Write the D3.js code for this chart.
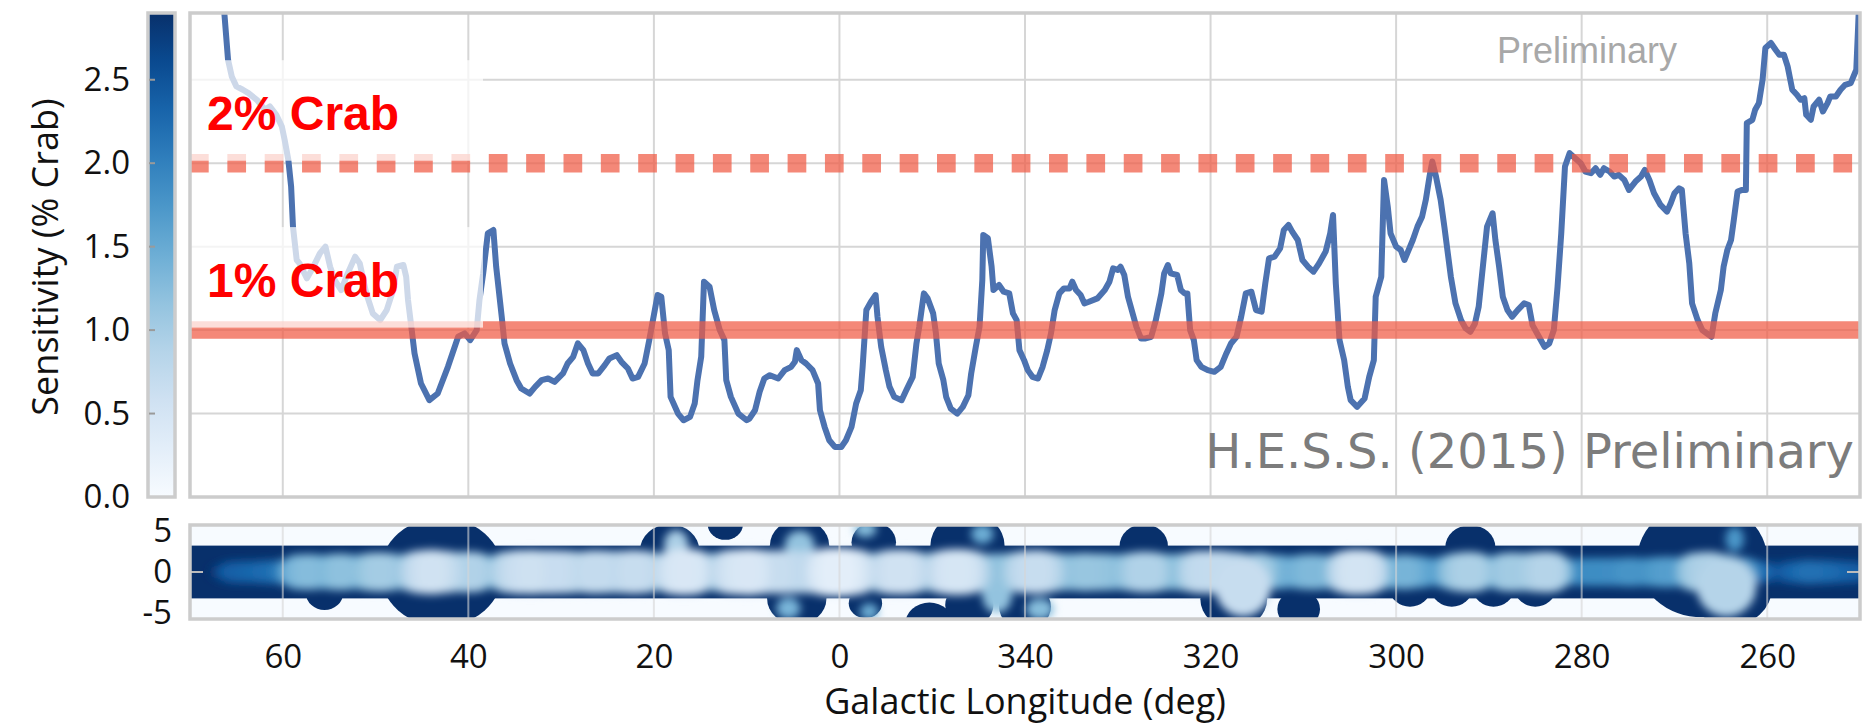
<!DOCTYPE html>
<html>
<head>
<meta charset="utf-8">
<script src="https://cdn.jsdelivr.net/npm/d3@7"></script>
<style>
body { margin: 0; background: #fff; }
svg { display: block; }
</style>
</head>
<body>
<div id="viz"></div>
<script>
// sensitivity along the plane (galactic longitude in deg, value in % Crab)
const longitudes = [
    66.6, 66.3, 65.9, 65.5, 65.0, 64.3, 63.7, 62.8, 61.9, 61.4,
    60.7, 60.1, 59.8, 59.4, 59.1, 58.9, 58.5, 58.2, 57.4, 56.7,
    56.0, 55.4, 54.9, 54.4, 53.7, 53.0, 52.2, 51.7, 51.0, 50.3,
    49.5, 48.8, 48.1, 47.7, 47.0, 46.7, 46.5, 46.1, 45.8, 45.1,
    44.2, 43.3, 42.2, 41.1, 40.4, 39.8, 39.1, 38.8, 38.4, 37.9,
    37.3, 37.0, 36.4, 36.1, 35.5, 34.8, 34.3, 33.4, 32.8, 32.1,
    31.4, 30.7, 29.8, 29.3, 28.7, 28.2, 27.6, 27.1, 26.6, 26.0,
    25.3, 24.8, 24.0, 23.5, 22.8, 22.3, 21.7, 21.0, 20.5, 19.9,
    19.6, 19.2, 18.8, 18.4, 18.2, 17.4, 16.8, 16.1, 15.6, 15.3,
    14.9, 14.6, 14.0, 13.5, 12.9, 12.4, 12.2, 11.7, 10.9, 10.0,
    9.7, 9.1, 8.6, 8.1, 7.5, 6.6, 5.9, 5.2, 4.8, 4.6,
    4.1, 3.6, 2.9, 2.3, 2.1, 1.6, 1.1, 0.5, 359.8, 359.3,
    358.7, 358.2, 357.7, 357.5, 357.1, 356.6, 356.1, 355.9, 355.5, 355.0,
    354.6, 354.1, 353.3, 352.8, 352.1, 351.7, 351.4, 350.9, 350.5, 349.9,
    349.6, 349.3, 348.8, 348.5, 348.0, 347.3, 346.7, 346.1, 345.8, 345.3,
    344.9, 344.6, 344.5, 344.0, 343.6, 343.4, 342.8, 342.3, 341.7, 341.3,
    340.9, 340.6, 340.1, 339.7, 339.2, 338.6, 338.1, 337.6, 337.2, 336.8,
    336.3, 335.8, 335.2, 334.9, 334.5, 334.0, 333.6, 333.1, 332.2, 331.4,
    330.9, 330.5, 330.0, 329.7, 329.3, 328.9, 328.6, 328.0, 327.5, 327.0,
    326.4, 325.9, 325.3, 325.0, 324.6, 324.3, 323.6, 323.2, 322.8, 322.5,
    322.2, 321.8, 321.5, 321.0, 320.3, 319.6, 318.9, 318.3, 317.8, 317.2,
    316.7, 316.2, 315.6, 315.1, 314.5, 314.1, 313.7, 313.1, 312.5, 312.1,
    311.6, 311.2, 310.6, 310.1, 309.5, 308.9, 308.3, 307.6, 307.1, 306.8,
    306.5, 306.1, 305.6, 305.2, 304.9, 304.2, 303.4, 302.9, 302.4, 302.2,
    301.6, 301.3, 300.9, 300.6, 300.0, 299.5, 299.1, 298.8, 298.2, 297.7,
    297.2, 296.8, 296.4, 296.1, 295.7, 295.2, 294.8, 294.1, 293.6, 293.0,
    292.5, 292.0, 291.5, 291.1, 290.5, 290.2, 289.6, 289.3, 288.9, 288.5,
    288.0, 287.5, 286.9, 286.2, 285.7, 285.3, 284.8, 284.0, 283.5, 283.0,
    282.6, 282.2, 281.8, 281.3, 280.7, 280.1, 279.6, 279.0, 278.5, 278.0,
    277.6, 277.0, 276.5, 276.0, 275.4, 274.9, 274.2, 273.6, 273.2, 272.7,
    272.2, 271.5, 270.8, 270.4, 270.0, 269.5, 269.2, 268.8, 268.4, 268.1,
    267.5, 267.0, 266.5, 266.0, 265.6, 265.0, 264.7, 264.3, 263.9, 263.6,
    263.2, 262.7, 262.3, 262.2, 261.6, 261.3, 260.9, 260.5, 260.2, 259.6,
    259.1, 258.7, 258.2, 257.8, 257.3, 256.8, 256.4, 256.0, 255.8, 255.3,
    255.0, 254.4, 254.0, 253.5, 253.2, 252.6, 252.1, 251.6, 251.0, 250.7,
    250.4, 250.2, 250.0
]
const sensitivity = [
    3.10, 2.90, 2.62, 2.52, 2.46, 2.44, 2.42, 2.38, 2.32, 2.34,
    2.29, 2.22, 2.14, 2.02, 1.86, 1.62, 1.42, 1.40, 1.31, 1.38,
    1.46, 1.50, 1.38, 1.30, 1.24, 1.34, 1.44, 1.40, 1.22, 1.10,
    1.06, 1.12, 1.24, 1.38, 1.39, 1.32, 1.18, 1.00, 0.86, 0.68,
    0.58, 0.62, 0.78, 0.96, 0.98, 0.94, 1.00, 1.18, 1.34, 1.58,
    1.60, 1.38, 1.08, 0.92, 0.80, 0.70, 0.65, 0.62, 0.66, 0.70,
    0.71, 0.69, 0.74, 0.80, 0.84, 0.92, 0.88, 0.80, 0.74, 0.74,
    0.79, 0.83, 0.85, 0.81, 0.77, 0.71, 0.72, 0.80, 0.94, 1.12,
    1.21, 1.20, 0.98, 0.88, 0.60, 0.50, 0.46, 0.48, 0.56, 0.70,
    0.84, 1.29, 1.26, 1.12, 1.00, 0.94, 0.70, 0.60, 0.50, 0.46,
    0.47, 0.52, 0.63, 0.71, 0.73, 0.71, 0.76, 0.78, 0.81, 0.88,
    0.82, 0.80, 0.76, 0.68, 0.52, 0.42, 0.34, 0.30, 0.30, 0.34,
    0.42, 0.56, 0.64, 0.78, 1.12, 1.17, 1.21, 1.08, 0.90, 0.76,
    0.66, 0.60, 0.58, 0.64, 0.72, 0.92, 1.02, 1.22, 1.19, 1.10,
    0.98, 0.80, 0.70, 0.60, 0.53, 0.50, 0.54, 0.61, 0.74, 0.90,
    1.02, 1.30, 1.57, 1.55, 1.38, 1.24, 1.27, 1.23, 1.22, 1.10,
    1.06, 0.88, 0.82, 0.76, 0.72, 0.71, 0.78, 0.88, 0.98, 1.12,
    1.22, 1.25, 1.25, 1.29, 1.24, 1.21, 1.16, 1.17, 1.19, 1.24,
    1.29, 1.37, 1.36, 1.38, 1.33, 1.20, 1.14, 1.02, 0.95, 0.95,
    0.96, 1.06, 1.22, 1.34, 1.39, 1.34, 1.33, 1.24, 1.22, 1.22,
    1.00, 0.94, 0.82, 0.78, 0.76, 0.75, 0.78, 0.86, 0.92, 0.96,
    1.08, 1.22, 1.23, 1.12, 1.11, 1.28, 1.43, 1.44, 1.49, 1.60,
    1.63, 1.59, 1.54, 1.42, 1.38, 1.35, 1.40, 1.47, 1.58, 1.69,
    1.28, 0.94, 0.82, 0.66, 0.58, 0.54, 0.59, 0.72, 0.82, 1.20,
    1.32, 1.90, 1.74, 1.58, 1.50, 1.48, 1.42, 1.46, 1.54, 1.62,
    1.68, 1.78, 1.92, 2.01, 1.92, 1.78, 1.62, 1.32, 1.16, 1.06,
    1.01, 0.99, 1.04, 1.14, 1.46, 1.62, 1.70, 1.54, 1.38, 1.20,
    1.12, 1.08, 1.12, 1.16, 1.15, 1.03, 0.98, 0.90, 0.92, 1.00,
    1.26, 1.58, 1.98, 2.06, 2.03, 2.00, 1.95, 1.94, 1.97, 1.93,
    1.97, 1.95, 1.92, 1.93, 1.90, 1.84, 1.89, 1.92, 1.96, 1.90,
    1.82, 1.75, 1.71, 1.76, 1.82, 1.85, 1.84, 1.58, 1.40, 1.16,
    1.06, 1.00, 0.98, 0.96, 1.10, 1.24, 1.38, 1.48, 1.54, 1.66,
    1.83, 1.84, 1.84, 2.24, 2.26, 2.32, 2.36, 2.50, 2.69, 2.72,
    2.68, 2.65, 2.65, 2.58, 2.44, 2.41, 2.38, 2.39, 2.29, 2.26,
    2.34, 2.38, 2.31, 2.36, 2.40, 2.40, 2.44, 2.47, 2.48, 2.52,
    2.56, 2.82, 3.10
]

const xTicks = [60, 40, 20, 0, 340, 320, 300, 280, 260]
const yTicks = [0, 0.5, 1.0, 1.5, 2.0, 2.5]
const latTicks = [5, 0, -5]
const crabLevels = [2, 1]
const crabLabels = ['2% Crab', '1% Crab']

// exposure map: extra pointings [l, b, radius] and off-plane sources [l, b, rl, rb, sens]
const pointings = [
    [42.9, 0, 6.6], [18.3, 2.6, 3.2], [12.3, 5.8, 1.9], [4.3, 3.2, 3.2], [4.6, -3.2, 3.2],
    [356.3, 3.6, 2.4], [357.2, -3.8, 1.8], [350.3, -6.3, 2.6], [346.2, 3.2, 4.0],
    [346.0, -4.0, 2.6], [340.0, -4.2, 2.8], [327.2, 3.2, 2.6], [317.5, -3.3, 3.6],
    [310.5, -4.5, 2.3], [298.5, -2.0, 2.2], [294.0, -2.0, 2.2], [289.5, -2.0, 2.2],
    [285.0, -2.0, 2.2], [292.0, 3.0, 2.7], [267.0, 1.5, 7.0], [264.0, -2.0, 4.5],
    [55.5, -2.6, 2.0]
]
const offPlane = [
    [17.6, 3.3, 1.3, 1.8, 1.0], [4.3, 3.2, 1.6, 1.8, 1.2], [357.2, 5.2, 1.2, 1.0, 1.3],
    [5.5, -4.4, 1.3, 1.3, 1.4], [356.8, -4.8, 1.0, 1.0, 1.5], [344.6, 4.6, 1.2, 1.2, 1.5],
    [343.0, -2.8, 1.6, 2.2, 1.2], [338.4, -4.5, 1.5, 1.3, 1.3], [316.5, -1.8, 3.0, 3.6, 0.7],
    [264.4, -1.8, 3.2, 3.6, 0.9], [263.5, 4.0, 1.0, 1.5, 1.8]
]

const W = 1863, H = 728
const font = 'Open Sans, Noto Sans, sans-serif'
const lineBlue = '#4c72b0', crabRed = '#f05a44', frameGrey = '#cccccc', gridGrey = '#d6d6d6'

const svg = d3.select('#viz')
    .append('svg')
    .attr('width', W)
    .attr('height', H)

const lt = l => l > 180 ? l - 360 : l

const x = d3.scaleLinear().domain([70, -110]).range([190, 1860])
const y = d3.scaleLinear().domain([0, 2.9]).range([497, 13])
const yb = d3.scaleLinear().domain([-5.7, 5.7]).range([619, 525])
const mapColor = v => d3.interpolateBlues(Math.min(v, 3) / 3)

const data = longitudes.map((l, i) => ({ l: lt(l), v: sensitivity[i] }))

const defs = svg.append('defs')
defs.append('clipPath').attr('id', 'clipTop')
    .append('rect').attr('x', 190).attr('y', 13).attr('width', 1670).attr('height', 484)
defs.append('clipPath').attr('id', 'clipBot')
    .append('rect').attr('x', 190).attr('y', 525).attr('width', 1670).attr('height', 94)
defs.append('filter').attr('id', 'soft')
    .attr('x', '-20%').attr('y', '-50%').attr('width', '140%').attr('height', '200%')
    .append('feGaussianBlur').attr('stdDeviation', 4)
const grad = defs.append('linearGradient').attr('id', 'blues')
    .attr('x1', 0).attr('y1', 1).attr('x2', 0).attr('y2', 0)
d3.range(0, 1.0001, 0.1).forEach(t => {
    grad.append('stop').attr('offset', t).attr('stop-color', d3.interpolateBlues(t))
})

// ---------- top panel ----------
const topG = svg.append('g').attr('clip-path', 'url(#clipTop)')

topG.selectAll('.vgrid').data(xTicks).enter().append('line')
    .attr('x1', d => x(lt(d))).attr('x2', d => x(lt(d)))
    .attr('y1', 13).attr('y2', 497)
    .attr('stroke', gridGrey).attr('stroke-width', 2)
topG.selectAll('.hgrid').data(yTicks.filter(d => d > 0)).enter().append('line')
    .attr('x1', 190).attr('x2', 1860)
    .attr('y1', d => y(d)).attr('y2', d => y(d))
    .attr('stroke', gridGrey).attr('stroke-width', 2)

const line = d3.line()
    .x(d => x(d.l))
    .y(d => y(d.v))

topG.append('path')
    .datum(data)
    .attr('d', line)
    .attr('fill', 'none')
    .attr('stroke', lineBlue)
    .attr('stroke-width', 6)
    .attr('stroke-linejoin', 'round')

topG.selectAll('.crab').data(crabLevels).enter().append('line')
    .attr('x1', 190).attr('x2', 1860)
    .attr('y1', d => y(d)).attr('y2', d => y(d))
    .attr('stroke', crabRed)
    .attr('stroke-opacity', 0.72)
    .attr('stroke-width', d => d === 2 ? 18.5 : 17.5)
    .attr('stroke-dasharray', d => d === 2 ? '18.7 18.65' : null)

// label boxes
topG.selectAll('.box').data(crabLevels).enter().append('rect')
    .attr('x', 180).attr('width', 303)
    .attr('y', d => y(d) - 103).attr('height', 100.5)
    .attr('fill', '#fff').attr('fill-opacity', 0.72)

topG.selectAll('.crabText').data(crabLevels).enter().append('text')
    .attr('x', 207)
    .attr('y', d => y(d) - 33.5)
    .attr('fill', '#ff0000')
    .attr('font-family', 'Liberation Sans, Arial, sans-serif')
    .attr('font-weight', 'bold')
    .attr('font-size', 48)
    .text((d, i) => crabLabels[i])

svg.append('text')
    .attr('x', 1497).attr('y', 63)
    .attr('fill', '#a8a8a8')
    .attr('font-family', 'Liberation Sans, Arial, sans-serif')
    .attr('font-size', 36)
    .text('Preliminary')

svg.append('text')
    .attr('x', 1854).attr('y', 468)
    .attr('text-anchor', 'end')
    .attr('fill', '#7c7c7c')
    .attr('font-family', 'DejaVu Sans, sans-serif')
    .attr('font-size', 48)
    .text('H.E.S.S. (2015) Preliminary')

svg.append('rect')
    .attr('x', 190).attr('y', 13).attr('width', 1670).attr('height', 484)
    .attr('fill', 'none').attr('stroke', frameGrey).attr('stroke-width', 3.5)

// colorbar
svg.append('rect')
    .attr('x', 148).attr('y', 13).attr('width', 27).attr('height', 484)
    .attr('fill', 'url(#blues)')
    .attr('stroke', frameGrey).attr('stroke-width', 3.5)
svg.selectAll('.cbtick').data(yTicks.filter(d => d > 0)).enter().append('line')
    .attr('x1', 149).attr('x2', 155)
    .attr('y1', d => y(d)).attr('y2', d => y(d))
    .attr('stroke', '#9a9a9a').attr('stroke-width', 2)

const yAxisG = svg.append('g')
    .attr('transform', 'translate(148, 0)')
    .call(d3.axisLeft(y).tickValues(yTicks).tickFormat(d3.format('.1f')).tickSize(0).tickPadding(18))
yAxisG.select('.domain').remove()
yAxisG.selectAll('text')
    .attr('font-family', font).attr('font-size', 33).attr('fill', '#111')

svg.append('text')
    .attr('transform', 'translate(58, 257) rotate(-90)')
    .attr('text-anchor', 'middle')
    .attr('font-family', font).attr('font-size', 36).attr('fill', '#111')
    .text('Sensitivity (% Crab)')

// ---------- bottom panel: exposure map ----------
const botG = svg.append('g').attr('clip-path', 'url(#clipBot)')
botG.append('rect')
    .attr('x', 190).attr('y', 525).attr('width', 1670).attr('height', 94)
    .attr('fill', d3.interpolateBlues(0))

const navy = d3.interpolateBlues(1)
botG.append('rect')
    .attr('x', 190).attr('width', 1670)
    .attr('y', yb(3.2)).attr('height', yb(-3.2) - yb(3.2))
    .attr('fill', navy)
botG.selectAll('.pointing').data(pointings).enter().append('ellipse')
    .attr('cx', d => x(lt(d[0])))
    .attr('cy', d => yb(d[1]))
    .attr('rx', d => Math.abs(x(0) - x(d[2])))
    .attr('ry', d => Math.abs(yb(0) - yb(d[2])))
    .attr('fill', navy)

const blobs = data.map(d => ({ l: d.l, b: 0, rl: 1.4, rb: 0.9 + 2.3 * (1 - Math.min(d.v, 3) / 3), v: d.v }))
    .concat(offPlane.map(d => ({ l: lt(d[0]), b: d[1], rl: d[2], rb: d[3], v: d[4] })))
    .sort((a, b) => d3.descending(a.v, b.v))

botG.append('g')
    .attr('filter', 'url(#soft)')
    .selectAll('ellipse').data(blobs).enter().append('ellipse')
    .attr('cx', d => x(d.l))
    .attr('cy', d => yb(d.b))
    .attr('rx', d => Math.abs(x(0) - x(d.rl)))
    .attr('ry', d => Math.abs(yb(0) - yb(d.rb)))
    .attr('fill', d => mapColor(d.v))

botG.selectAll('.bgrid').data(xTicks).enter().append('line')
    .attr('x1', d => x(lt(d))).attr('x2', d => x(lt(d)))
    .attr('y1', 525).attr('y2', 619)
    .attr('stroke', gridGrey).attr('stroke-width', 2).attr('stroke-opacity', 0.6)
botG.selectAll('.btick').data([[190, 203], [1847, 1860]]).enter().append('line')
    .attr('x1', d => d[0]).attr('x2', d => d[1])
    .attr('y1', yb(0)).attr('y2', yb(0))
    .attr('stroke', '#bbbbbb').attr('stroke-width', 2)

svg.append('rect')
    .attr('x', 190).attr('y', 525).attr('width', 1670).attr('height', 94)
    .attr('fill', 'none').attr('stroke', frameGrey).attr('stroke-width', 3.5)

const latAxisG = svg.append('g')
    .attr('transform', 'translate(190, 0)')
    .call(d3.axisLeft(yb).tickValues(latTicks).tickFormat(d => String(d)).tickSize(0).tickPadding(18))
latAxisG.select('.domain').remove()
latAxisG.selectAll('text')
    .attr('font-family', font).attr('font-size', 33).attr('fill', '#111')

const xAxisG = svg.append('g')
    .attr('transform', 'translate(0, 619)')
    .call(d3.axisBottom(x).tickValues(xTicks.map(lt)).tickFormat(d => d < 0 ? d + 360 : d).tickSize(0).tickPadding(26))
xAxisG.select('.domain').remove()
xAxisG.selectAll('text')
    .attr('font-family', font).attr('font-size', 33).attr('fill', '#111')

svg.append('text')
    .attr('x', 1025).attr('y', 714)
    .attr('text-anchor', 'middle')
    .attr('font-family', font).attr('font-size', 36).attr('fill', '#111')
    .text('Galactic Longitude (deg)')
</script>
</body>
</html>
